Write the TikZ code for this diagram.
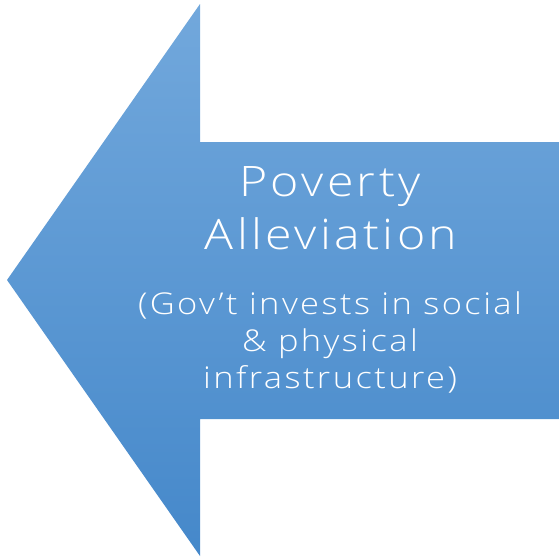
\documentclass[tikz,border=0pt]{standalone}
\usepackage{fontspec}
\setmainfont[Ligatures=NoCommon, FakeStretch=1.15, LetterSpace=8]{Open Sans Light}
\usetikzlibrary{positioning}

\definecolor{arrowtop}{HTML}{72A8DC}
\definecolor{arrowbottom}{HTML}{4588CA}

\tikzset{
  bigtext/.style={text=white, anchor=base, font=\fontsize{42}{49}\selectfont},
  smalltext/.style={text=white, anchor=base, font=\fontsize{30}{37}\selectfont}
}

\begin{document}
\begin{tikzpicture}[x=1pt, y=-1pt]
  \useasboundingbox (0,0) rectangle (559,558);

  % big left arrow
  \shade[top color=arrowtop, bottom color=arrowbottom]
    (7,280) -- (200,4) -- (200,142) -- (559,142) -- (559,419)
    -- (200,419) -- (200,556) -- cycle;

  \node[bigtext]   (pov)   at (330,196) {Poverty};
  \node[bigtext]   (all)   at (331,249) {Alleviation};
  \node[smalltext] (gov)   at (330,314) {(Gov’t invests in social};
  \node[smalltext] (phys)  at (330,351) {\& physical};
  \node[smalltext] (infra) at (330,388) {infrastructure)};
\end{tikzpicture}
\end{document}
